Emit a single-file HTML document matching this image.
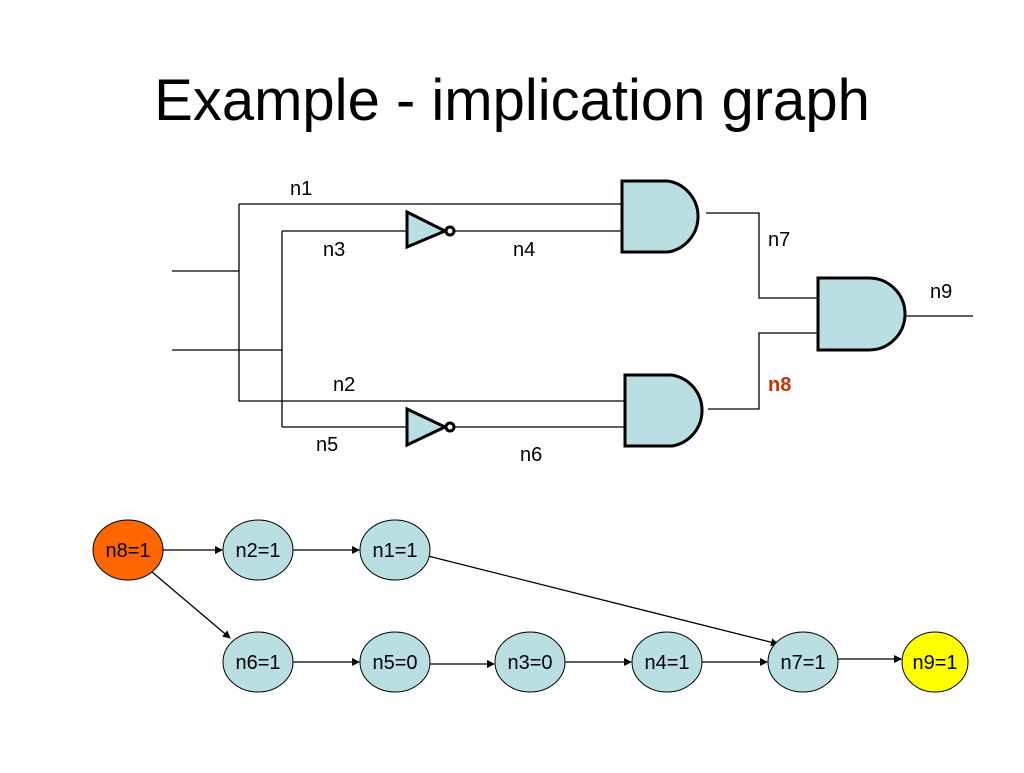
<!DOCTYPE html>
<html><head><meta charset="utf-8"><style>
body{margin:0;background:#fff;width:1024px;height:768px;overflow:hidden}
</style></head><body>
<svg width="1024" height="768" xmlns="http://www.w3.org/2000/svg" font-family="Liberation Sans, sans-serif">
<defs><marker id="a" markerWidth="8" markerHeight="8" refX="7" refY="4" orient="auto" markerUnits="userSpaceOnUse"><path d="M0,0 L8,4 L0,8 z" fill="#000"/></marker></defs>
<text x="512" y="120" font-size="58" text-anchor="middle">Example - implication graph</text>
<g stroke="#000" stroke-width="1.3" fill="none">
<path d="M239,204 H622 M239,204 V401 H625 M172,271 H239 M172,350 H282 M282,231 V427 M282,231 H407 M455,231 H622 M282,427 H407 M455,427 H625"/>
<path d="M706,213 H759 V298 H818 M708,409 H759 V333 H818 M905,316 H973"/>
</g>
<g fill="#b9dfe3" stroke="#000" stroke-width="3">
<path d="M622,181 H668 A36,36 0 0 1 668,252 H622 Z"/>
<path d="M625,375 H672 A36,36 0 0 1 672,446 H625 Z"/>
<path d="M818,278 H869 A36,36 0 0 1 869,350 H818 Z"/>
<path d="M407,212 L445,231 L407,247 Z"/>
<path d="M407,409 L445,427 L407,445 Z"/>
<circle cx="450" cy="231" r="4" fill="#fff"/>
<circle cx="450" cy="427" r="4" fill="#fff"/>
</g>
<g font-size="20">
<text x="290" y="195">n1</text><text x="323" y="256">n3</text><text x="513" y="256">n4</text>
<text x="333" y="391">n2</text><text x="316" y="451">n5</text><text x="520" y="461">n6</text>
<text x="768" y="246">n7</text><text x="930" y="298">n9</text>
<text x="768" y="391" fill="#cc3300" font-weight="bold">n8</text>
</g>
<g stroke="#000" stroke-width="1.3" marker-end="url(#a)">
<line x1="163" y1="550" x2="222" y2="550"/><line x1="293" y1="550" x2="359" y2="550"/>
<line x1="152" y1="572" x2="230" y2="638"/><line x1="428" y1="556" x2="778" y2="644"/>
<line x1="293" y1="662" x2="359" y2="662"/><line x1="430" y1="664" x2="494" y2="664"/>
<line x1="565" y1="662" x2="631" y2="662"/><line x1="702" y1="662" x2="767" y2="662"/>
<line x1="838" y1="659" x2="901" y2="659"/>
</g>
<g stroke="#000" stroke-width="1">
<ellipse cx="128" cy="550" rx="35" ry="30" fill="#ff6600"/>
<ellipse cx="258" cy="550" rx="35" ry="30" fill="#b9dfe3"/>
<ellipse cx="395" cy="550" rx="35" ry="30" fill="#b9dfe3"/>
<ellipse cx="258" cy="662" rx="35" ry="30" fill="#b9dfe3"/>
<ellipse cx="395" cy="662" rx="35" ry="30" fill="#b9dfe3"/>
<ellipse cx="530" cy="662" rx="35" ry="30" fill="#b9dfe3"/>
<ellipse cx="667" cy="662" rx="35" ry="30" fill="#b9dfe3"/>
<ellipse cx="803" cy="662" rx="35" ry="30" fill="#b9dfe3"/>
<ellipse cx="935" cy="662" rx="33" ry="30" fill="#ffff00"/>
</g>
<g font-size="20" text-anchor="middle">
<text x="128" y="557">n8=1</text><text x="258" y="557">n2=1</text><text x="395" y="557">n1=1</text>
<text x="258" y="669">n6=1</text><text x="395" y="669">n5=0</text><text x="530" y="669">n3=0</text>
<text x="667" y="669">n4=1</text><text x="803" y="669">n7=1</text><text x="935" y="669">n9=1</text>
</g>
</svg>
</body></html>
